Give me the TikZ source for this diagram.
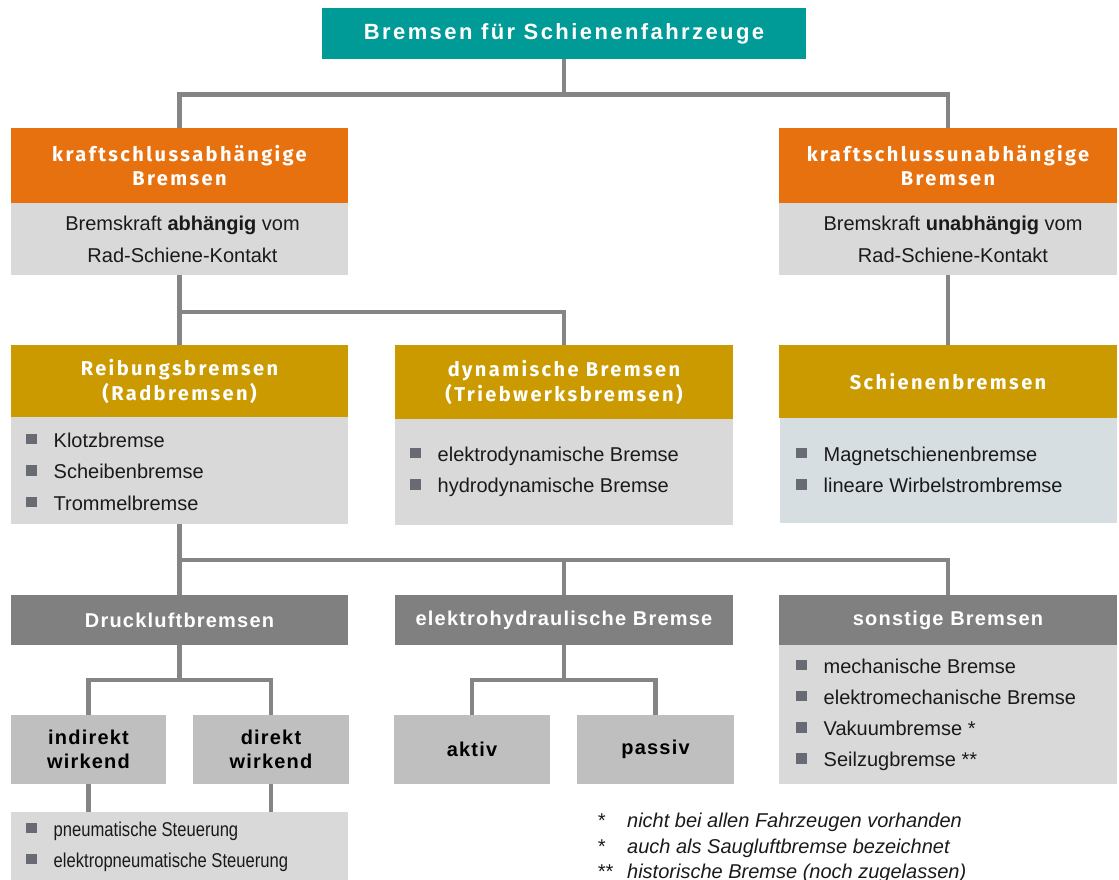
\documentclass[tikz,border=0pt]{standalone}
\usepackage{fontspec}
\setmainfont{Liberation Sans}
\newfontfamily\hfont[LetterSpace=12]{Fira Sans}
\newfontfamily\tfont[LetterSpace=11]{Liberation Sans}
\newfontfamily\gfont[LetterSpace=6]{Liberation Sans}
\newfontfamily\nfont[FakeStretch=0.83]{Liberation Sans}
\definecolor{teal}{HTML}{009A97}
\definecolor{orng}{HTML}{E8710F}
\definecolor{gold}{HTML}{CB9A00}
\definecolor{hgrey}{HTML}{808080}
\definecolor{lgrey}{HTML}{D9D9D9}
\definecolor{mgrey}{HTML}{BFBFBF}
\definecolor{blgrey}{HTML}{D6DEE2}
\definecolor{bulc}{HTML}{686B73}
\definecolor{linegrey}{HTML}{858585}
\definecolor{txt}{HTML}{1A1A1A}
\newcommand\blt{\textcolor{bulc}{\rule[3pt]{10.5pt}{10.5pt}}\hspace{17pt}}
\tikzset{
  box/.style={rectangle, inner sep=0pt, outer sep=0pt, anchor=north west},
  conn/.style={draw=linegrey, line width=4.5pt},
  titlebox/.style={box, fill=teal, text=white, font=\tfont\bfseries\fontsize{22}{26}\selectfont},
  hdrO/.style={box, fill=orng, text=white, align=center, font=\hfont\bfseries\fontsize{20}{24}\selectfont},
  hdrG/.style={box, fill=gold, text=white, align=center, font=\hfont\bfseries\fontsize{20}{25}\selectfont},
  hdrD/.style={box, fill=hgrey, text=white, align=center, font=\gfont\bfseries\fontsize{20}{24}\selectfont},
  subbox/.style={box, fill=mgrey, text=black, align=center, font=\gfont\bfseries\fontsize{20}{24}\selectfont},
  body/.style={box, fill=lgrey, text=txt, align=center, font=\fontsize{20}{32}\selectfont},
  listbox/.style={box, fill=lgrey},
  item/.style={anchor=base west, inner sep=0pt, text=txt, font=\fontsize{20}{24}\selectfont},
  nitem/.style={anchor=base west, inner sep=0pt, text=txt, font=\nfont\fontsize{20}{24}\selectfont},
  fn/.style={anchor=base west, inner sep=0pt, text=txt, font=\itshape\fontsize{20}{24}\selectfont}
}
\begin{document}
\begin{tikzpicture}[x=1pt,y=-1pt]
\useasboundingbox (0,0) rectangle (1119,880);
% title
\node[titlebox, minimum width=484pt, minimum height=51pt] (title) at (322,8) {Bremsen für Schienenfahrzeuge};
% level 1
\node[hdrO, minimum width=337pt, minimum height=75pt] (kabH) at (11,128) {kraftschlussabhängige\\Bremsen};
\node[body, minimum width=337pt, minimum height=72pt] (kabB) at (11,203) {\hspace{6pt}Bremskraft \textbf{abhängig} vom\\\hspace{6pt}Rad-Schiene-Kontakt};
\node[hdrO, minimum width=338pt, minimum height=75pt] (kunH) at (779,128) {kraftschlussunabhängige\\Bremsen};
\node[body, minimum width=338pt, minimum height=72pt] (kunB) at (779,203) {\hspace{10pt}Bremskraft \textbf{unabhängig} vom\\\hspace{10pt}Rad-Schiene-Kontakt};
% level 2
\node[hdrG, minimum width=337pt, minimum height=72pt] (reibH) at (11,345) {Reibungsbremsen\\(Radbremsen)};
\node[listbox, minimum width=337pt, minimum height=107pt] (reibL) at (11,417) {};
\node[item] (r1) at (26,447) {\blt Klotzbremse};
\node[item] (r2) at (26,478.5) {\blt Scheibenbremse};
\node[item] (r3) at (26,510) {\blt Trommelbremse};
\node[hdrG, minimum width=338pt, minimum height=74pt] (dynH) at (395,345) {dynamische Bremsen\\(Triebwerksbremsen)};
\node[listbox, minimum width=338pt, minimum height=106pt] (dynL) at (395,419) {};
\node[item] (d1) at (410,461) {\blt elektrodynamische Bremse};
\node[item] (d2) at (410,492.5) {\blt hydrodynamische Bremse};
\node[hdrG, minimum width=338pt, minimum height=73pt] (schH) at (779,345) {Schienenbremsen};
\node[listbox, fill=blgrey, minimum width=337pt, minimum height=105pt] (schL) at (780,418) {};
\node[item] (s1) at (796,461) {\blt Magnetschienenbremse};
\node[item] (s2) at (796,492.5) {\blt lineare Wirbelstrombremse};
% level 3
\node[hdrD, minimum width=337pt, minimum height=50pt] (drH) at (11,595) {Druckluftbremsen};
\node[hdrD, minimum width=338pt, minimum height=50pt] (ehH) at (395,595) {elektrohydraulische Bremse};
\node[hdrD, minimum width=338pt, minimum height=50pt] (soH) at (779,595) {sonstige Bremsen};
\node[listbox, minimum width=338pt, minimum height=139pt] (soL) at (779,645) {};
\node[item] (o1) at (796,673) {\blt mechanische Bremse};
\node[item] (o2) at (796,704) {\blt elektromechanische Bremse};
\node[item] (o3) at (796,735.5) {\blt Vakuumbremse *};
\node[item] (o4) at (796,766.5) {\blt Seilzugbremse **};
% level 4
\node[subbox, minimum width=155pt, minimum height=69pt] (ind) at (11,715) {indirekt\\wirkend};
\node[subbox, minimum width=156pt, minimum height=69pt] (dir) at (193,715) {direkt\\wirkend};
\node[subbox, minimum width=156pt, minimum height=69pt] (akt) at (394,715) {aktiv};
\node[subbox, minimum width=157pt, minimum height=69pt] (pas) at (577,715) {passiv};
\node[listbox, minimum width=337pt, minimum height=80pt] (dl) at (11,812) {};
\node[nitem] (p1) at (26,836) {\blt pneumatische Steuerung};
\node[nitem] (p2) at (26,867) {\blt elektropneumatische Steuerung};
% footnotes
\node[fn] (f1) at (597,827) {\makebox[30pt][l]{*}nicht bei allen Fahrzeugen vorhanden};
\node[fn] (f2) at (597,853) {\makebox[30pt][l]{*}auch als Saugluftbremse bezeichnet};
\node[fn] (f3) at (597,878) {\makebox[30pt][l]{**}historische Bremse (noch zugelassen)};
% connectors
\path (title.south) ++(0,35.5) coordinate (j1);
\draw[conn] (title.south) -- (j1);
\draw[conn] (j1) -| (kabH.north);
\draw[conn] (j1) -| (kunH.north);
\path (kabB.south) ++(0,37) coordinate (j2);
\draw[conn] (kabB.south) -- (j2);
\draw[conn] (j2) -| (reibH.north);
\draw[conn] (j2) -| (dynH.north);
\draw[conn] (kunB.south) -- (schH.north);
\path (reibL.south) ++(0,36) coordinate (j3);
\draw[conn] (reibL.south) -- (j3);
\draw[conn] (j3) -| (drH.north);
\draw[conn] (j3) -| (ehH.north);
\draw[conn] (j3) -| (soH.north);
\path (drH.south) ++(0,35) coordinate (j4);
\draw[conn] (drH.south) -- (j4);
\draw[conn] (j4) -| (ind.north);
\draw[conn] (j4) -| (dir.north);
\draw[conn] (ind.south) -- (ind.south |- dl.north);
\draw[conn] (dir.south) -- (dir.south |- dl.north);
\path (ehH.south) ++(0,35) coordinate (j5);
\draw[conn] (ehH.south) -- (j5);
\draw[conn] (j5) -| (akt.north);
\draw[conn] (j5) -| (pas.north);
\end{tikzpicture}
\end{document}
